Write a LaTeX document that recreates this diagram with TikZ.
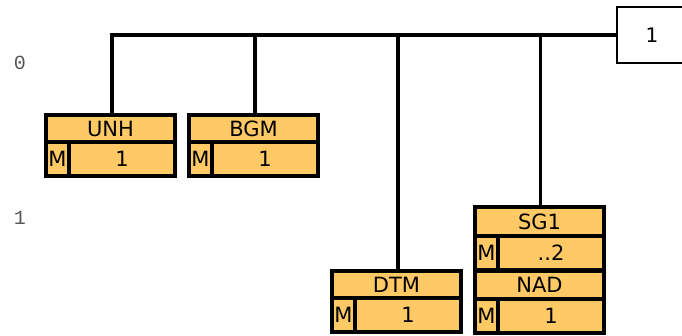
\documentclass[tikz,border=0pt]{standalone}
\usepackage{fontspec}
\setmainfont{DejaVu Sans}
\newfontfamily\lvlfont{Liberation Mono}
\definecolor{segfill}{HTML}{FFC966}
\definecolor{lvlgray}{HTML}{555555}
\begin{document}
\begin{tikzpicture}[x=1pt,y=-1pt,
  cell/.style={draw=black,line width=3.3pt,fill=segfill,inner sep=0pt,outer sep=0pt,anchor=north west,font=\fontsize{21}{21}\selectfont},
  hdr/.style={cell,minimum width=129pt,minimum height=27pt},
  mcell/.style={cell,minimum width=23pt,minimum height=34pt},
  vcell/.style={cell,minimum width=106pt,minimum height=34pt},
  conn/.style={line width=3.3pt},
  lvl/.style={font=\lvlfont\fontsize{20}{20}\selectfont,text=lvlgray},
  topbox/.style={draw=black,line width=2pt,fill=white,minimum width=70pt,minimum height=56pt,inner sep=0pt,outer sep=0pt,anchor=north west,font=\fontsize{20}{20}\selectfont}
]
\useasboundingbox (0,0) rectangle (682,335);
\begin{scope}
\clip (0,0) rectangle (682,335);
% level labels
\node[lvl] (l0) at (20,63) {0};
\node[lvl] (l1) at (20,218) {1};
% top box
\node[topbox] (top) at (617,7) {1};
% UNH
\node[hdr] (unh) at (46,115) {UNH};
\node[mcell] (unhm) at (unh.south west) {M};
\node[vcell] (unhv) at (unhm.north east) {1};
% BGM
\node[hdr] (bgm) at (189,115) {BGM};
\node[mcell] (bgmm) at (bgm.south west) {M};
\node[vcell] (bgmv) at (bgmm.north east) {1};
% DTM
\node[hdr] (dtm) at (332,271) {DTM};
\node[mcell] (dtmm) at (dtm.south west) {M};
\node[vcell] (dtmv) at (dtmm.north east) {1};
% SG1
\node[hdr,minimum height=29pt] (sg1) at (475,207) {SG1};
\node[mcell] (sg1m) at (sg1.south west) {M};
\node[vcell] (sg1v) at (sg1m.north east) {..2};
% NAD
\node[hdr,minimum height=28pt] (nad) at (475,271) {NAD};
\node[mcell] (nadm) at (nad.south west) {M};
\node[vcell] (nadv) at (nadm.north east) {1};
% connectors
\draw[conn] ([xshift=1.5pt]unh.north) |- (top.west);
\draw[conn] ([xshift=1.5pt]bgm.north) -- ([xshift=1.5pt]bgm.north |- top.west);
\draw[conn] ([xshift=1.5pt]dtm.north) -- ([xshift=1.5pt]dtm.north |- top.west);
\draw[conn] ([xshift=1pt]sg1.north) -- ([xshift=1pt]sg1.north |- top.west);
\end{scope}
\end{tikzpicture}
\end{document}
